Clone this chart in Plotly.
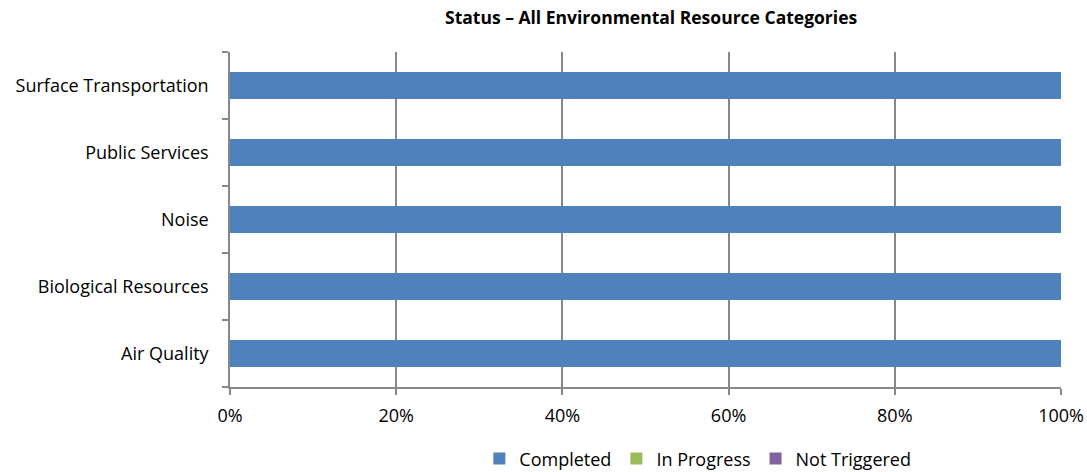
import plotly.graph_objects as go

categories = ["Air Quality", "Biological Resources", "Noise", "Public Services", "Surface Transportation"]
completed = [1.0, 1.0, 1.0, 1.0, 1.0]
in_progress = [0.0, 0.0, 0.0, 0.0, 0.0]
not_triggered = [0.0, 0.0, 0.0, 0.0, 0.0]
x_ticks = [0, 0.2, 0.4, 0.6, 0.8, 1.0]
x_tick_labels = ["0%", "20%", "40%", "60%", "80%", "100%"]

font_family = "Open Sans, Liberation Sans, sans-serif"

fig = go.Figure()
for name, vals, color in [("Completed", completed, "#4F81BD"),
                          ("In Progress", in_progress, "#9BBB59"),
                          ("Not Triggered", not_triggered, "#8064A2")]:
    fig.add_trace(go.Bar(y=categories, x=vals, name=name, orientation="h",
                         marker=dict(color=color, line=dict(width=0)), width=0.4))

fig.update_layout(
    barmode="stack",
    width=1087, height=472,
    margin=dict(l=230, r=26, t=52, b=85, autoexpand=False),
    plot_bgcolor="white", paper_bgcolor="white",
    font=dict(family=font_family, size=18, color="#000000"),
    title=dict(text="<b>Status – All Environmental Resource Categories</b>",
               x=0.599, xref="container", xanchor="center", y=0.962, yref="container",
               yanchor="middle", font=dict(size=17.5, family=font_family)),
    legend=dict(orientation="h", x=0.642, xref="container", xanchor="center",
                y=0.028, yref="container", yanchor="middle",
                font=dict(size=18), traceorder="normal", itemwidth=30,
                bgcolor="rgba(0,0,0,0)"),
)
fig.update_xaxes(range=[0, 1], tickvals=x_ticks, ticktext=x_tick_labels,
                 showgrid=True, gridcolor="#888888", gridwidth=1.5,
                 showline=True, linecolor="#888888", linewidth=1.5,
                 ticks="outside", ticklen=6, tickcolor="#888888", tickwidth=1.5,
                 zeroline=False, tickfont=dict(size=18), automargin=False,
                 ticklabelstandoff=6)
fig.update_yaxes(categoryorder="array", categoryarray=categories,
                 showline=True, linecolor="#888888", linewidth=1.5,
                 ticks="outside", ticklen=6, tickcolor="#888888", tickwidth=1.5,
                 tickson="boundaries", showgrid=False, tickfont=dict(size=18),
                 ticklabelstandoff=16, automargin=False)

fig.write_html("out.html", config={"displayModeBar": False},
               post_script="document.body.style.margin='0';document.body.style.overflow='hidden';")
